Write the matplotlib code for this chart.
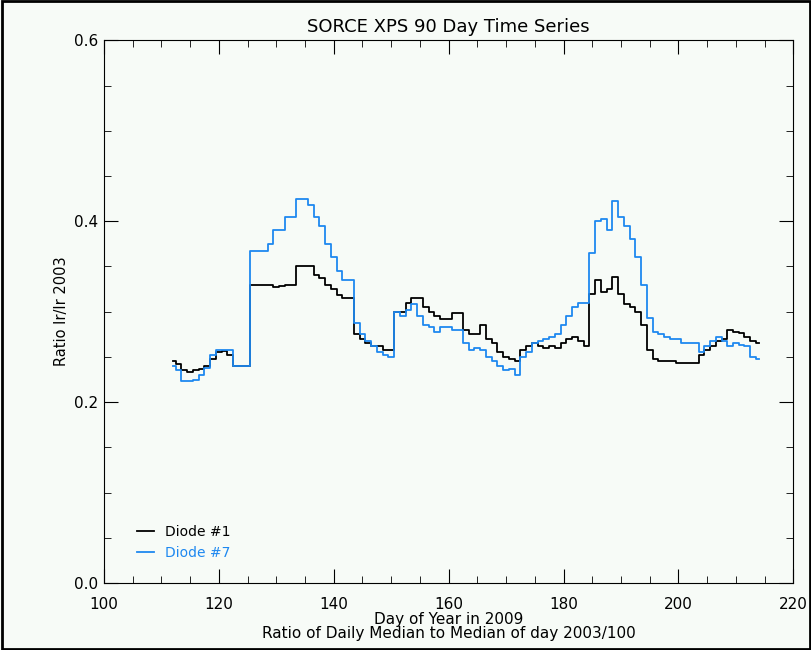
import numpy as np
import matplotlib
matplotlib.use("Agg")
import matplotlib.pyplot as plt
from matplotlib.patches import Rectangle

days = np.arange(112, 215)
diode1 = [0.245, 0.242, 0.235, 0.233, 0.235, 0.237, 0.240, 0.248, 0.255, 0.257,
          0.252, 0.240, 0.240, 0.240, 0.330, 0.330, 0.330, 0.330, 0.327, 0.328,
          0.329, 0.330, 0.350, 0.350, 0.350, 0.340, 0.337, 0.330, 0.325, 0.318,
          0.315, 0.315, 0.275, 0.270, 0.265, 0.262, 0.262, 0.258, 0.258, 0.300,
          0.300, 0.310, 0.315, 0.315, 0.305, 0.300, 0.295, 0.292, 0.292, 0.298,
          0.298, 0.280, 0.275, 0.275, 0.285, 0.270, 0.265, 0.255, 0.250, 0.248,
          0.245, 0.258, 0.262, 0.265, 0.262, 0.260, 0.262, 0.260, 0.265, 0.270,
          0.272, 0.268, 0.262, 0.320, 0.335, 0.322, 0.325, 0.338, 0.320, 0.308,
          0.305, 0.300, 0.285, 0.258, 0.248, 0.245, 0.246, 0.245, 0.243, 0.243,
          0.243, 0.243, 0.252, 0.258, 0.262, 0.268, 0.270, 0.280, 0.278, 0.276,
          0.272, 0.268, 0.265]
diode7 = [0.240, 0.235, 0.223, 0.223, 0.225, 0.230, 0.238, 0.252, 0.258, 0.258,
          0.258, 0.240, 0.240, 0.240, 0.367, 0.367, 0.367, 0.375, 0.390, 0.390,
          0.405, 0.405, 0.425, 0.425, 0.418, 0.405, 0.395, 0.375, 0.360, 0.345,
          0.335, 0.335, 0.287, 0.275, 0.268, 0.262, 0.255, 0.252, 0.250, 0.300,
          0.295, 0.302, 0.308, 0.295, 0.285, 0.283, 0.278, 0.283, 0.283, 0.280,
          0.280, 0.265, 0.258, 0.260, 0.258, 0.250, 0.245, 0.240, 0.235, 0.237,
          0.230, 0.250, 0.255, 0.265, 0.268, 0.270, 0.272, 0.275, 0.285, 0.295,
          0.305, 0.310, 0.310, 0.365, 0.400, 0.402, 0.390, 0.422, 0.405, 0.395,
          0.380, 0.360, 0.330, 0.293, 0.278, 0.275, 0.272, 0.270, 0.270, 0.265,
          0.265, 0.265, 0.255, 0.262, 0.268, 0.272, 0.268, 0.262, 0.265, 0.263,
          0.262, 0.250, 0.248]

bg = "#f7fbf7"
fig = plt.figure(figsize=(8.12, 6.5), dpi=100, facecolor=bg)
ax = fig.add_axes([0.128, 0.103, 0.849, 0.835], facecolor=bg)
fig.add_artist(Rectangle((0.002, 0.002), 0.996, 0.996, transform=fig.transFigure,
                         fill=False, edgecolor="black", lw=2))

ax.step(days, diode1, where="mid", color="black", lw=1.3, label="Diode #1")
ax.step(days, diode7, where="mid", color="#1e88f0", lw=1.3, label="Diode #7")

ax.set_xlim(100, 220)
ax.set_ylim(0, 0.6)
ax.set_xticks(np.arange(100, 221, 20))
ax.set_yticks([0.0, 0.2, 0.4, 0.6])
ax.set_yticklabels(["0.0", "0.2", "0.4", "0.6"])
ax.set_xticks(np.arange(100, 221, 5), minor=True)
ax.set_yticks(np.arange(0, 0.61, 0.05), minor=True)
ax.tick_params(direction="in", which="both", top=True, right=True, labelsize=11)
ax.tick_params(which="major", length=10)
ax.tick_params(which="minor", length=5)
ax.tick_params(axis="x", pad=10)
ax.tick_params(axis="y", pad=4)

ax.set_title("SORCE XPS 90 Day Time Series", fontsize=13, pad=6)
ax.set_ylabel("Ratio Ir/Ir 2003", fontsize=10.5)
ax.set_xlabel("Day of Year in 2009\nRatio of Daily Median to Median of day 2003/100",
              fontsize=11, labelpad=0, linespacing=0.9)

leg = ax.legend(loc="lower left", frameon=False, fontsize=10, handlelength=1.2,
                bbox_to_anchor=(0.03, 0.02), labelspacing=0.5)
for t, l in zip(leg.get_texts(), leg.get_lines()):
    t.set_color(l.get_color())

fig.savefig("out.png", dpi=100, facecolor=bg)
